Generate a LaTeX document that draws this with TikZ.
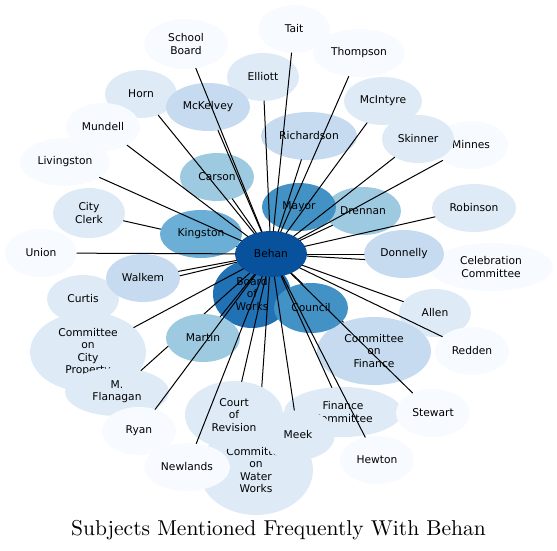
\documentclass[tikz,border=0pt]{standalone}
\usepackage{fontspec}
\newfontfamily\labelfont{DejaVu Sans}
\newfontfamily\titlefont{lmroman10-regular}[Extension=.otf]
\usepackage{tikz}
\usetikzlibrary{shapes.geometric}
\tikzset{
  every picture/.style={line join=round, line cap=round},
  ent/.style={ellipse, draw=none, inner sep=0pt, outer sep=0pt, align=center,
    minimum width=72pt, minimum height=48pt,
    font=\labelfont\fontsize{10.7}{12.2}\selectfont},
  link/.style={line width=1pt, black},
}
\definecolor{bluA}{HTML}{F7FBFF}
\definecolor{bluB}{HTML}{DEEBF7}
\definecolor{bluC}{HTML}{C6DBEF}
\definecolor{bluD}{HTML}{9ECAE1}
\definecolor{bluE}{HTML}{6BAED6}
\definecolor{bluF}{HTML}{4292C6}
\definecolor{bluG}{HTML}{2171B5}
\definecolor{bluH}{HTML}{08519C}
\pgfdeclarelayer{low}
\pgfdeclarelayer{mid}
\pgfsetlayers{low,mid,main}

\begin{document}
\begin{tikzpicture}[x=1pt,y=-1pt]
\useasboundingbox (0,0) rectangle (557,550);

% outer names, drawn first
\begin{pgfonlayer}{low}
\node[ent,fill=bluA,minimum width=84pt,minimum height=50pt] (schoolboard) at (186,44) {School\\Board};
\node[ent,fill=bluA] (tait) at (294,29) {Tait};
\node[ent,fill=bluA,minimum width=92pt] (thompson) at (359,53) {Thompson};
\node[ent,fill=bluB] (elliott) at (263,77) {Elliott};
\node[ent,fill=bluB] (horn) at (141,94) {Horn};
\node[ent,fill=bluC,minimum width=84pt] (mckelvey) at (208,107) {McKelvey};
\node[ent,fill=bluA,minimum width=74pt] (mundell) at (103,127) {Mundell};
\node[ent,fill=bluA,minimum width=90pt] (livingston) at (65,162) {Livingston};
\node[ent,fill=bluB,minimum width=78pt] (mcintyre) at (383,101) {McIntyre};
\node[ent,fill=bluC,minimum width=96pt] (richardson) at (309,136) {Richardson};
\node[ent,fill=bluA,minimum width=74pt] (minnes) at (471,145) {Minnes};
\node[ent,fill=bluB] (skinner) at (418,139) {Skinner};
\node[ent,fill=bluD,minimum width=74pt] (carson) at (217,177) {Carson};
\node[ent,fill=bluD,minimum width=76pt] (drennan) at (363,211) {Drennan};
\node[ent,fill=bluB,minimum width=84pt] (robinson) at (474,208) {Robinson};
\node[ent,fill=bluB,minimum height=50pt] (cityclerk) at (89,213) {City\\Clerk};
\node[ent,fill=bluA] (union) at (41,253) {Union};
\node[ent,fill=bluA,minimum width=124pt] (celebration) at (491,267) {Celebration\\Committee};
\node[ent,fill=bluB] (curtis) at (83,299) {Curtis};
\node[ent,fill=bluB] (allen) at (435,313) {Allen};
\node[ent,fill=bluC,minimum width=114pt,minimum height=68pt] (cttfinance) at (374,351) {Committee\\on\\Finance};
\node[ent,fill=bluA,minimum width=74pt] (redden) at (472,351) {Redden};
\node[ent,fill=bluB,minimum width=116pt,minimum height=80pt] (cttproperty) at (88,352) {Committee\\on\\City\\Property};
\node[ent,fill=bluB,minimum width=104pt] (flanagan) at (117,392) {M.\\Flanagan};
\node[ent,fill=bluG,minimum width=78pt,minimum height=68pt] (works) at (252,294) {Board\\of\\Works};
\node[ent,fill=bluB,minimum width=114pt,minimum height=90pt] (cttwater) at (256,470) {Committee\\on\\Water\\Works};
\node[ent,fill=bluB,minimum width=118pt,minimum height=50pt] (fincommittee) at (343,412) {Finance\\Committee};
\node[ent,fill=bluB,minimum width=74pt,minimum height=50pt] (meek) at (298,435) {Meek};
\node[ent,fill=bluA,minimum width=74pt] (stewart) at (433,413) {Stewart};
\node[ent,fill=bluA,minimum width=74pt] (hewton) at (377,460) {Hewton};
\node[ent,fill=bluA,minimum width=74pt] (ryan) at (139,431) {Ryan};
\node[ent,fill=bluA,minimum width=86pt] (newlands) at (187,467) {Newlands};
\end{pgfonlayer}

% names on top
\node[ent,fill=bluE,minimum width=82pt] (kingston) at (201,234) {Kingston};
\node[ent,fill=bluC,minimum width=74pt] (walkem) at (143,278) {Walkem};
\node[ent,fill=bluC,minimum width=80pt] (donnelly) at (404,254) {Donnelly};
\node[ent,fill=bluD,minimum width=74pt] (martin) at (203,338) {Martin};
\node[ent,fill=bluB,minimum width=98pt,minimum height=68pt] (revision) at (234,415) {Court\\of\\Revision};
\node[ent,fill=bluF,minimum width=74pt,minimum height=50pt] (council) at (311,308) {Council};
\node[ent,fill=bluF,minimum width=74pt] (mayor) at (299,207) {Mayor};
\node[ent,fill=bluH,minimum height=46pt] (behan) at (271,254) {Behan};

% links hidden under other names
\begin{pgfonlayer}{mid}
\draw[link] (behan) -- (cityclerk);
\draw[link] (behan) -- (curtis);
\draw[link] (behan) -- (celebration);
\draw[link] (behan) -- (flanagan);
\draw[link] (behan) -- (cttwater);
\draw[link] (behan) -- (cttfinance);
\end{pgfonlayer}

% links
\draw[link] (behan) -- (schoolboard);
\draw[link] (behan) -- (tait);
\draw[link] (behan) -- (thompson);
\draw[link] (behan) -- (elliott);
\draw[link] (behan) -- (horn);
\draw[link] (behan) -- (mckelvey);
\draw[link] (behan) -- (mundell);
\draw[link] (behan) -- (livingston);
\draw[link] (behan) -- (mcintyre);
\draw[link] (behan) -- (richardson);
\draw[link] (behan) -- (minnes);
\draw[link] (behan) -- (skinner);
\draw[link] (behan) -- (carson);
\draw[link] (behan) -- (drennan);
\draw[link] (behan) -- (robinson);
\draw[link] (behan) -- (donnelly);
\draw[link] (behan) -- (union);
\draw[link] (behan) -- (walkem);
\draw[link] (behan) -- (cttproperty);
\draw[link] (behan) -- (martin);
\draw[link] (behan) -- (ryan);
\draw[link] (behan) -- (newlands);
\draw[link] (behan) -- (revision);
\draw[link] (behan) -- (meek);
\draw[link] (behan) -- (fincommittee);
\draw[link] (behan) -- (hewton);
\draw[link] (behan) -- (stewart);
\draw[link] (behan) -- (redden);
\draw[link] (behan) -- (allen);

\node[anchor=base,font=\titlefont\fontsize{21.5}{25}\selectfont] (title) at (278.5,535) {Subjects Mentioned Frequently With Behan};
\end{tikzpicture}
\end{document}
